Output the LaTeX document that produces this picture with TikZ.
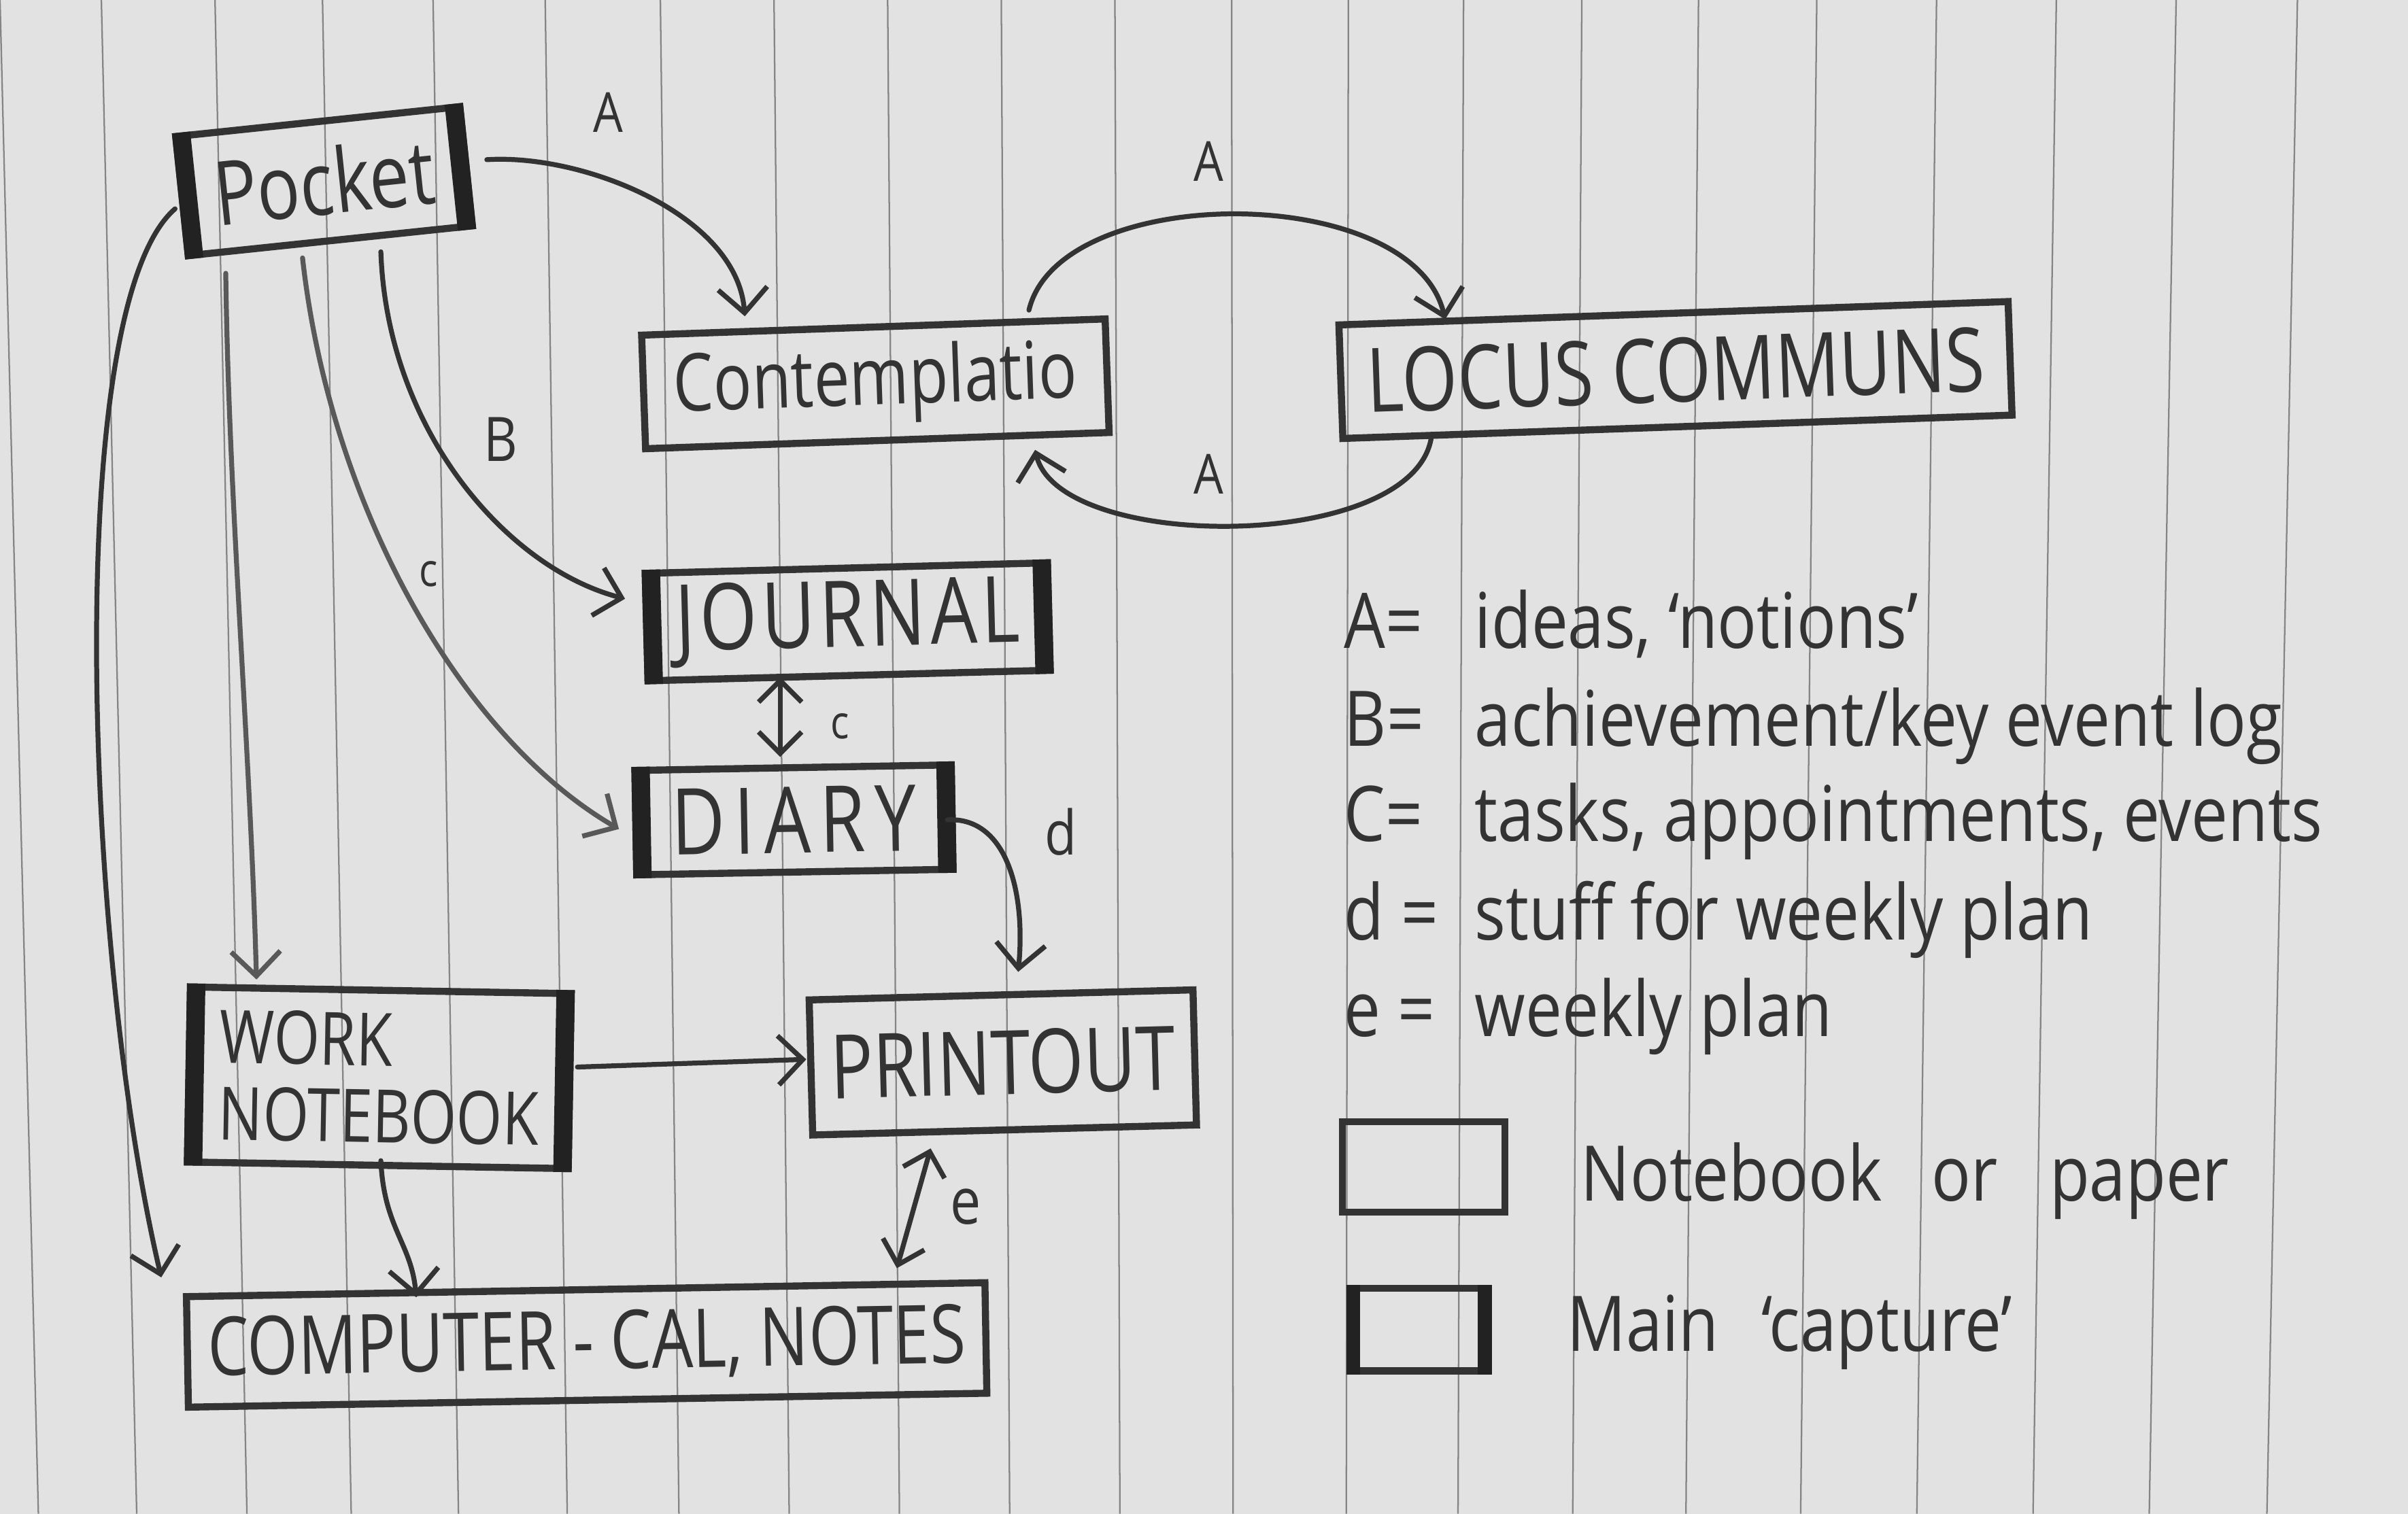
\documentclass[tikz,border=0pt]{standalone}
\usepackage{fontspec}
\newfontfamily\handbox[FakeStretch=0.8]{Open Sans}
\newfontfamily\handtxt[FakeStretch=0.85]{Open Sans}
\usetikzlibrary{arrows.meta,calc}
\definecolor{paper}{HTML}{E2E2E2}
\definecolor{ruling}{HTML}{858585}
\definecolor{pencil}{HTML}{333333}
\definecolor{pencillight}{HTML}{595959}
\definecolor{barfill}{HTML}{222222}
\newcommand\capbars[2]{%
  \fill[barfill] (#1.north west) -- ($(#1.north west)!#2!(#1.north east)$) -- ($(#1.south west)!#2!(#1.south east)$) -- (#1.south west) -- cycle;
  \fill[barfill] (#1.north east) -- ($(#1.north east)!#2!(#1.north west)$) -- ($(#1.south east)!#2!(#1.south west)$) -- (#1.south east) -- cycle;}
\tikzset{
  nbox/.style={draw=pencil, line width=2.3pt, rectangle, inner sep=0pt, text=pencil},
  arr/.style={draw=pencil, line width=1.6pt, line cap=round, -{Straight Barb[length=8pt,width=16pt]}},
  darr/.style={arr, {Straight Barb[length=7pt,width=14pt]}-{Straight Barb[length=7pt,width=14pt]}},
  lbl/.style={text=pencil, inner sep=0pt, font={\handtxt\fontsize{18}{18}\selectfont}},
  legtext/.style={text=pencil, inner sep=0pt, anchor=base west, font={\handtxt\fontsize{25}{25}\selectfont}}
}
\begin{document}
\begin{tikzpicture}[x=0.5pt,y=-0.5pt]
\fill[paper] (0,0) rectangle (1568,986);
\useasboundingbox (0,0) rectangle (1568,986);
\foreach \t in {0,66,140,210,282,355,430,504,578,652,726,802,878,953,1030,1106,1183,1261,1339,1417,1496}
  \draw[ruling, line width=0.5pt] (\t,0) -- ({\t+25-0.03*\t},986);

% boxes
\node[nbox, minimum width=93pt, minimum height=39pt, rotate=6, font={\handbox\fontsize{29}{30}\selectfont}] (pocket) at (211,118) {Pocket};
\node[nbox, minimum width=151pt, minimum height=37pt, rotate=2, font={\handbox\fontsize{26}{28}\selectfont}] (contemp) at (570,250) {Contemplatio};
\node[nbox, minimum width=218pt, minimum height=37pt, rotate=2, font={\handbox\fontsize{29}{30}\selectfont}] (locus) at (1091,241) {LOCUS COMMUNS};
\node[nbox, minimum width=131pt, minimum height=35pt, rotate=1.5, font={\handbox\fontsize{30}{30}\selectfont\addfontfeature{LetterSpace=5}}] (journal) at (552,405) {JOURNAL};
\node[nbox, minimum width=103pt, minimum height=34pt, rotate=1, font={\handbox\fontsize{30}{30}\selectfont\addfontfeature{LetterSpace=10}}] (diary) at (517,534) {DIARY};
\node[nbox, minimum width=124pt, minimum height=57pt, rotate=-1, align=left, font={\handbox\fontsize{24}{25}\selectfont}] (work) at (247,702) {WORK\\NOTEBOOK};
\node[nbox, minimum width=125pt, minimum height=44pt, rotate=1.5, font={\handbox\fontsize{29}{30}\selectfont}] (printout) at (653,692) {PRINTOUT};
\node[nbox, minimum width=260pt, minimum height=36pt, rotate=1, font={\handbox\fontsize{26.5}{28}\selectfont}] (computer) at (382,876) {COMPUTER - CAL, NOTES};

\capbars{pocket}{6pt}
\capbars{journal}{6pt}
\capbars{diary}{6pt}
\capbars{work}{6pt}

% connectors
\draw[arr] ([shift={(106,-14)}]pocket.center) .. controls +(63,-4) and +(-5,-66) .. ([shift={(-85,-44)}]contemp.center);
\draw[arr] ([shift={(100,-48)}]contemp.center) .. controls +(20,-84) and +(-21,-90) .. ([shift={(-150,-33)}]locus.center);
\draw[arr] ([shift={(-159,44)}]locus.center) .. controls +(-12,75) and +(16,67) .. ([shift={(104,43)}]contemp.center);
\draw[arr] ([shift={(37,46)}]pocket.center) .. controls +(4,116) and +(-77,-20) .. ([shift={(-145,-15)}]journal.center);
\draw[arr, draw=pencillight] ([shift={(-14,50)}]pocket.center) .. controls +(18,162) and +(-103,-60) .. ([shift={(-114,6)}]diary.center);
\draw[arr, draw=pencillight] ([shift={(-64,60)}]pocket.center) .. controls +(2,150) and +(-4,-150) .. ([shift={(-80,-64)}]work.center);
\draw[arr] ([shift={(-97,18)}]pocket.center) .. controls +(-74,64) and +(-50,-212) .. ([shift={(-277,-44)}]computer.center);
\draw[darr] ([shift={(-44,36)}]journal.center) -- ([shift={(-9,-41)}]diary.center);
\draw[arr] ([shift={(100,0)}]diary.center) .. controls +(38,-2) and +(5,-53) .. ([shift={(10,-59)}]printout.center);
\draw[arr] ([shift={(129,-7)}]work.center) -- ([shift={(-128,-2)}]printout.center);
\draw[arr] ([shift={(1,54)}]work.center) .. controls +(2,44) and +(-3,-35) .. ([shift={(-111,-31)}]computer.center);
\draw[darr] ([shift={(-47,56)}]printout.center) -- ([shift={(202,-50)}]computer.center);

% connector labels
\node[lbl] (la1) at (396,73) {A};
\node[lbl] (la2) at (787,105) {A};
\node[lbl] (la3) at (787,309) {A};
\node[lbl, font={\handtxt\fontsize{20}{20}\selectfont}] (lb) at (326,286) {B};
\node[lbl, font={\handtxt\fontsize{15}{15}\selectfont}] (lc1) at (279,374) {c};
\node[lbl, font={\handtxt\fontsize{15}{15}\selectfont}] (lc2) at (547,473) {c};
\node[lbl, font={\handtxt\fontsize{20}{20}\selectfont}] (ld) at (691,542) {d};
\node[lbl, font={\handtxt\fontsize{21}{21}\selectfont}] (le) at (629,786) {e};

% legend
\node[legtext] (l1) at (875,422) {\makebox[42.5pt][l]{A=}ideas, ‘notions’};
\node[legtext] (l2) at (875,486) {\makebox[42.5pt][l]{B=}achievement/key event log};
\node[legtext] (l3) at (875,548) {\makebox[42.5pt][l]{C=}tasks, appointments, events};
\node[legtext] (l4) at (875,612) {\makebox[42.5pt][l]{d =}stuff for weekly plan};
\node[legtext] (l5) at (875,675) {\makebox[42.5pt][l]{e =}weekly plan};
\node[nbox, minimum width=53pt, minimum height=29.5pt] (legpaper) at (927,760) {};
\node[nbox, minimum width=45pt, minimum height=27pt] (legcap) at (924,866) {};
\capbars{legcap}{4.5pt}
\node[legtext] (l6) at (1029,782) {Notebook\hspace{16pt}or\hspace{17pt}paper};
\node[legtext] (l7) at (1020,880) {Main\hspace{14pt}‘capture’};
\end{tikzpicture}
\end{document}
